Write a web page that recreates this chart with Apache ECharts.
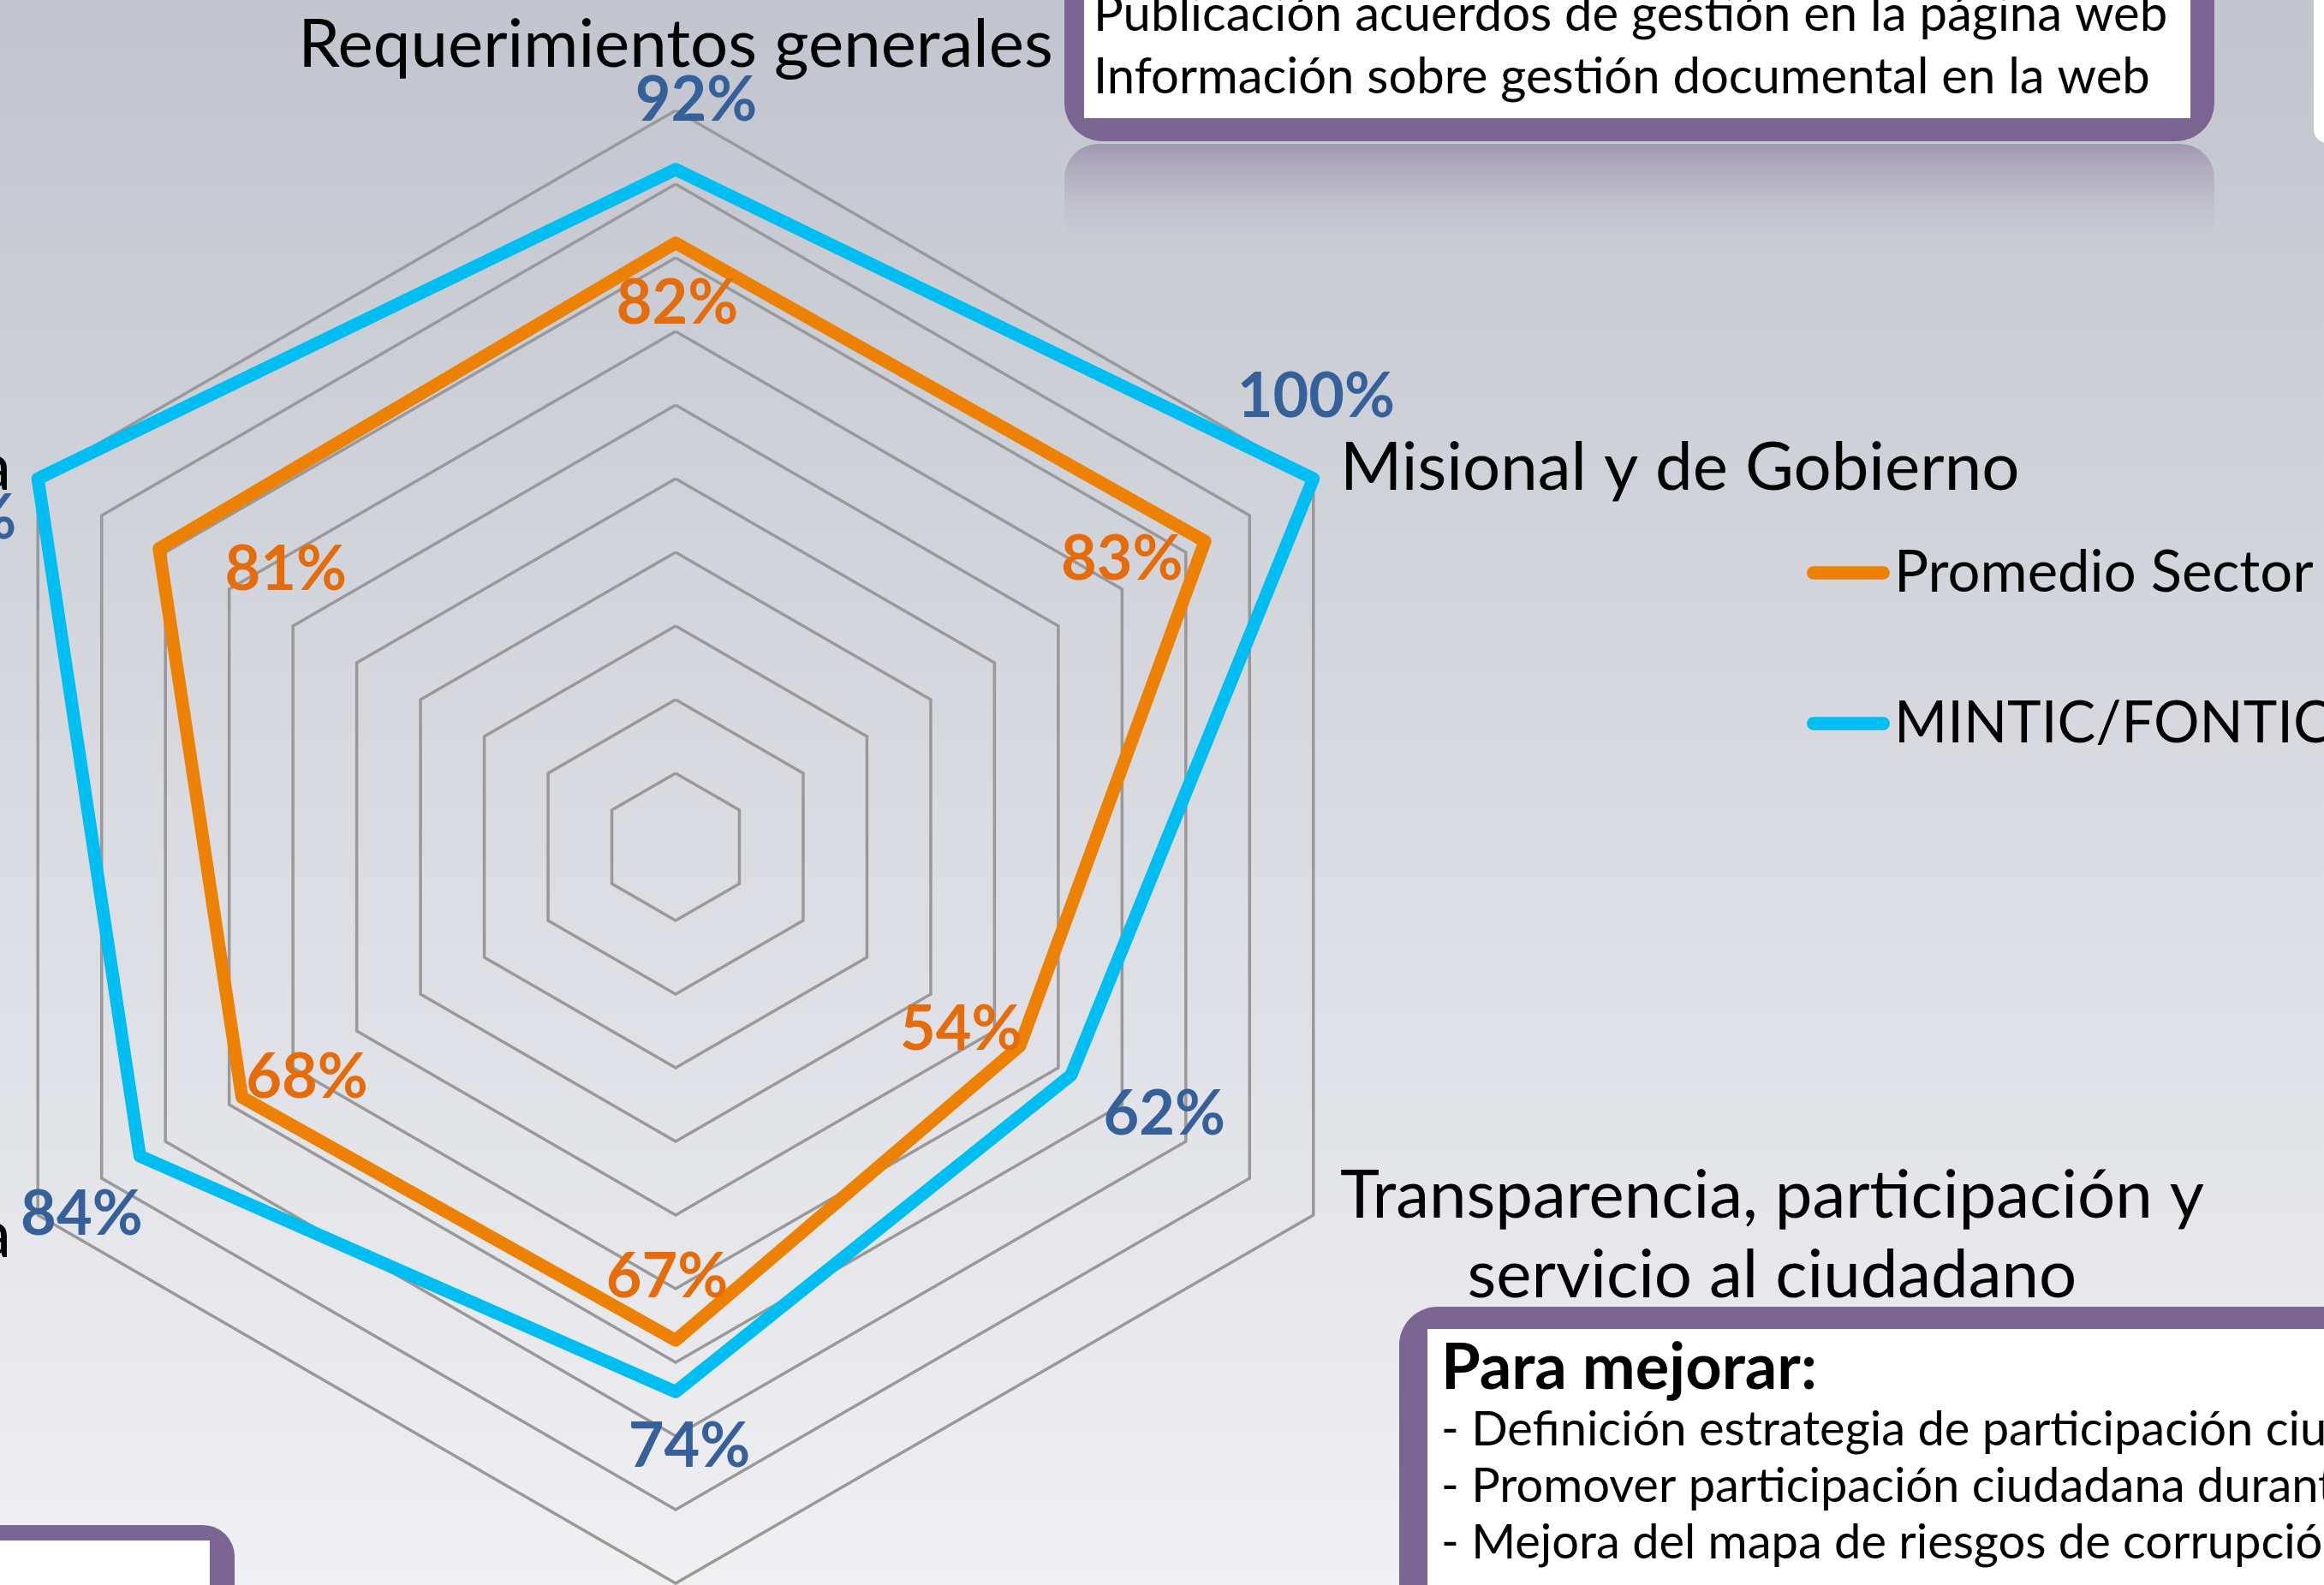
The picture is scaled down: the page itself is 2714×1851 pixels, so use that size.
<!DOCTYPE html>
<html>
<head>
<meta charset="utf-8">
<script src="https://cdn.jsdelivr.net/npm/echarts@6/dist/echarts.min.js"></script>
<style>
  html, body { margin: 0; padding: 0; }
  #chart { width: 2714px; height: 1851px; }
</style>
</head>
<body>
<div id="chart"></div>
<script>
// ejes en el orden del radar de echarts (desde arriba, sentido antihorario)
const indicatorNames = [
  'Requerimientos generales',
  'Gestión financiera',
  'Eficiencia administrativa',
  'Gestión del talento humano',
  'Transparencia, participación y\nservicio al ciudadano',
  'Misional y de Gobierno'
]
const seriesNames = ['Promedio Sector', 'MINTIC/FONTIC']
const sectorValues = [82, 81, 68, 67, 54, 83]
const mintValues = [92, 100, 84, 74, 62, 100]

// desplazamiento de cada etiqueta respecto a su vértice (px)
const sectorOffsets = [[2, 71], [148, 25], [76, -23], [-10, -73], [-69, -18], [-97, 22]]
const mintOffsets = [[24, -80], [-117, 47], [-68, 69], [16, 64], [109, 46], [3, -95]]

const orange = '#ec8104'
const cyan = '#00bdf2'
const orangeText = '#e46c0a'
const blueText = '#35609a'
const purple = '#7b6592'

const center = [789, 989]
const radius = 860

const angleOf = i => i * 360 / indicatorNames.length

let chartDom = document.getElementById('chart')
let myChart = echarts.init(chartDom)

const labelSeries = (values, offsets, color) => ({
  type: 'scatter',
  coordinateSystem: 'polar',
  silent: true,
  symbolSize: 1,
  itemStyle: { color: 'rgba(0,0,0,0)', opacity: 1 },
  z: 5,
  label: {
    show: true,
    position: 'inside',
    formatter: p => p.value[0] + '%',
    color: color,
    opacity: 1,
    fontSize: 72,
    fontWeight: 'bold',
    fontFamily: 'Lato',
    textBorderWidth: 0
  },
  data: values.map((v, i) => ({ value: [v, angleOf(i)], label: { offset: offsets[i] } }))
})

let option = {
  animation: false,
  graphic: {
    elements: [
      // fondo degradado
      {
        type: 'rect', z: -10, silent: true,
        shape: { x: 0, y: 0, width: 2714, height: 1851 },
        style: {
          fill: new echarts.graphic.LinearGradient(0, 0, 0, 1, [
            { offset: 0, color: '#c2c5ce' },
            { offset: 1, color: '#f0f0f3' }
          ])
        }
      },
      // recuadro superior
      { type: 'rect', z: 50, shape: { x: 1243, y: -80, width: 1343, height: 245, r: [0, 0, 45, 45] }, style: { fill: purple } },
      { type: 'rect', z: 51, shape: { x: 1266, y: -40, width: 1292, height: 178 }, style: { fill: '#ffffff' } },
      {
        type: 'rect', z: 49, silent: true,
        shape: { x: 1243, y: 168, width: 1343, height: 125, r: [40, 40, 0, 0] },
        style: {
          fill: new echarts.graphic.LinearGradient(0, 0, 0, 1, [
            { offset: 0, color: 'rgba(123,101,146,0.5)' },
            { offset: 1, color: 'rgba(200,202,212,0)' }
          ])
        }
      },
      { type: 'text', z: 52, style: { text: 'Publicación acuerdos de gestión en la página web', x: 1277, y: 17, font: '58px Lato', fill: '#000', verticalAlign: 'middle' } },
      { type: 'text', z: 52, style: { text: 'Información sobre gestión documental en la web', x: 1277, y: 90, font: '58px Lato', fill: '#000', verticalAlign: 'middle' } },
      // recuadro blanco en el borde derecho
      { type: 'rect', z: 50, shape: { x: 2702, y: -20, width: 40, height: 187, r: [0, 0, 0, 16] }, style: { fill: '#ffffff' } },
      // recuadro "Para mejorar"
      { type: 'rect', z: 50, shape: { x: 1634, y: 1526, width: 1200, height: 400, r: [45, 0, 0, 0] }, style: { fill: purple } },
      { type: 'rect', z: 51, shape: { x: 1667, y: 1552, width: 1150, height: 360 }, style: { fill: '#ffffff' } },
      { type: 'text', z: 52, style: { text: 'Para mejorar:', x: 1683, y: 1598, font: 'bold 74px Lato', fill: '#000', verticalAlign: 'middle' } },
      { type: 'text', z: 52, style: { text: '- Definición estrategia de participación ciudadana', x: 1683, y: 1670, font: '56px Lato', fill: '#000', verticalAlign: 'middle' } },
      { type: 'text', z: 52, style: { text: '- Promover participación ciudadana durante', x: 1683, y: 1736, font: '56px Lato', fill: '#000', verticalAlign: 'middle' } },
      { type: 'text', z: 52, style: { text: '- Mejora del mapa de riesgos de corrupción', x: 1683, y: 1802, font: '56px Lato', fill: '#000', verticalAlign: 'middle' } },
      // recuadro inferior izquierdo
      { type: 'rect', z: 50, shape: { x: -60, y: 1781, width: 334, height: 120, r: [0, 37, 0, 0] }, style: { fill: purple } },
      { type: 'rect', z: 51, shape: { x: -60, y: 1799, width: 305, height: 100 }, style: { fill: '#ffffff' } }
    ]
  },
  legend: {
    orient: 'vertical',
    left: 2105,
    top: 624,
    itemGap: 96,
    itemWidth: 97,
    itemHeight: 16,
    icon: 'path://M8,0 H92 A8,8 0 0 1 92,16 H8 A8,8 0 0 1 8,0 Z',
    textStyle: { color: '#000', fontSize: 67, fontFamily: 'Lato', lineHeight: 80 },
    data: seriesNames
  },
  radar: {
    center: center,
    radius: radius,
    startAngle: 90,
    splitNumber: 10,
    shape: 'polygon',
    nameGap: 36,
    indicator: indicatorNames.map(n => ({ name: n, min: 0, max: 100 })),
    axisName: {
      color: '#000',
      fontSize: 78,
      fontFamily: 'Lato',
      formatter: name => name.split('\n').map(l => '{c|' + l + '}').join('\n'),
      rich: { c: { align: 'center', fontSize: 78, fontFamily: 'Lato', color: '#000', lineHeight: 93, padding: [12, 0, 0, 0] } }
    },
    axisLine: { show: false },
    splitArea: { show: false },
    splitLine: { lineStyle: { color: '#999999', width: 3.5 } }
  },
  polar: { center: center, radius: radius },
  angleAxis: { type: 'value', min: 0, max: 360, startAngle: 90, clockwise: false, show: false },
  radiusAxis: { type: 'value', min: 0, max: 100, show: false },
  series: [
    {
      type: 'radar',
      symbol: 'none',
      z: 3,
      data: [
        {
          name: seriesNames[0],
          value: sectorValues,
          itemStyle: { color: orange },
          lineStyle: { color: orange, width: 15, cap: 'round', join: 'round' }
        },
        {
          name: seriesNames[1],
          value: mintValues,
          itemStyle: { color: cyan },
          lineStyle: { color: cyan, width: 15, cap: 'round', join: 'round' }
        }
      ]
    },
    labelSeries(sectorValues, sectorOffsets, orangeText),
    labelSeries(mintValues, mintOffsets, blueText)
  ]
}

myChart.setOption(option)
</script>
</body>
</html>
